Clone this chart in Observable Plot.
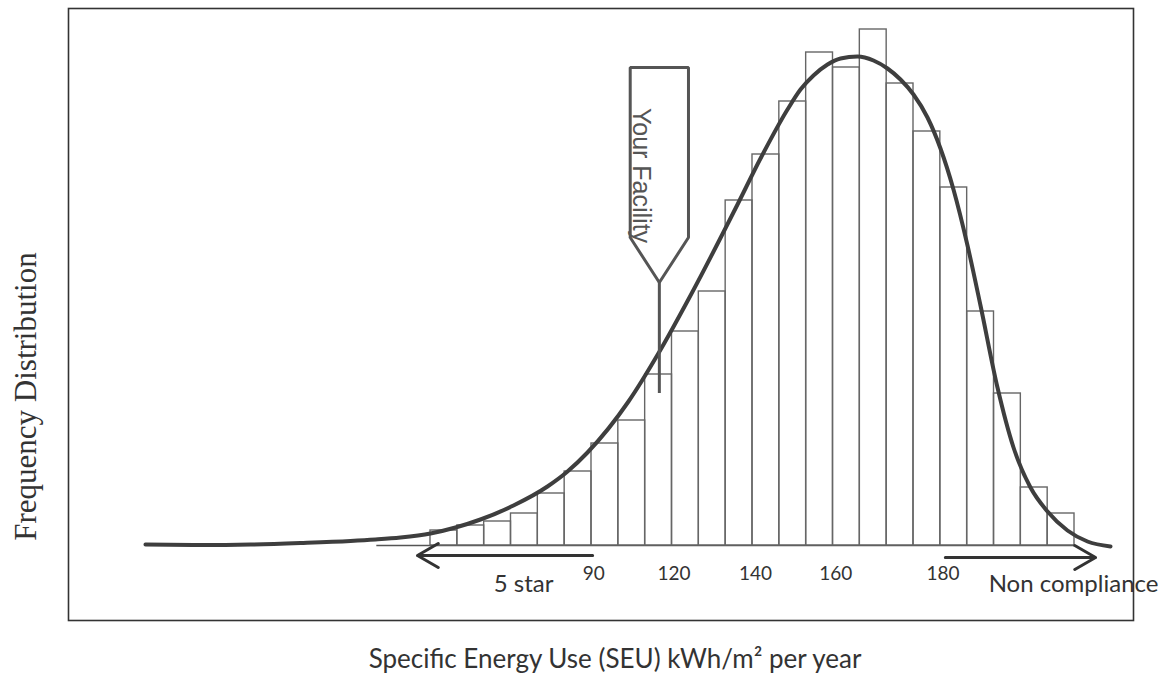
<!DOCTYPE html>
<html><head><meta charset="utf-8">
<script src="https://cdn.jsdelivr.net/npm/d3@7"></script>
<script src="https://cdn.jsdelivr.net/npm/@observablehq/plot@0.6"></script>
<style>body{margin:0;background:#fff;} svg{display:block;}</style>
</head><body><div id="chart"></div>
<script>
// Histogram bins (SEU, kWh/m² per year) and their frequency heights
const binStart = [48,55,62,69,76,83,90,97,104,111,118,125,132,139,146,153,160,167,174,181,188,195,202,209];
const binWidth = 7;
const frequency = [3.0,4.0,4.8,6.4,10.4,14.8,20.4,25.0,34.2,42.8,50.8,69.0,78.2,88.8,98.6,95.6,103.2,92.4,82.8,71.6,46.8,30.4,11.6,6.4];

// Fitted distribution curve
const curveSEU  = [-26.35,-12.0,1.04,14.09,27.13,33.65,40.17,48.0,54.52,61.04,69.65,78.52,83.74,88.96,99.65,107.74,115.83,128.09,134.09,141.13,144.52,147.91,151.57,154.96,159.39,163.57,167.22,170.61,174.0,177.65,181.04,184.43,188.09,191.48,195.91,200.09,204.52,208.96,214.17,219.39,225.39];
const curveFreq = [0.2,0.1,0.2,0.5,0.9,1.2,1.6,2.4,3.6,5.2,8.0,11.8,14.8,18.6,28.8,38.8,50.0,68.2,77.4,87.2,91.2,94.0,96.2,97.4,97.8,97.0,95.4,93.2,90.2,85.6,79.4,71.2,60.0,48.0,31.6,19.6,11.6,6.8,3.0,0.8,-0.2];

// Tick labels (as printed) and where they sit along the axis
const tickLabels = ["90","120","140","160","180"];
const tickAt = [90.6,111.5,132.8,153.7,181.7];

// Annotations
const facilitySEU = 107.7;
const fiveStar = {from: 90.3, to: 44.6, label: "5 star", labelAt: 72.3};
const nonCompliance = {from: 182.3, to: 221.5, label: "Non compliance", labelAt: 193.6};

const bars = binStart.map((s, i) => ({x1: s, x2: s + binWidth, f: frequency[i]}));
const curve = curveSEU.map((x, i) => ({x, y: curveFreq[i]}));
const ticks = tickLabels.map((t, i) => ({x: tickAt[i], t}));

// Marker outline ("Your Facility" pointer) in data space around facilitySEU
const hw = 7.6;
const markerPath = [
  {x: facilitySEU - hw, y: 61.6}, {x: facilitySEU - hw, y: 95.6},
  {x: facilitySEU + hw, y: 95.6}, {x: facilitySEU + hw, y: 61.6},
  {x: facilitySEU, y: 52.6}, {x: facilitySEU - hw, y: 61.6}
];

const sans = "Lato, 'Open Sans', sans-serif";
const chart = Plot.plot({
  width: 1165, height: 677,
  marginLeft: 68, marginRight: 32, marginTop: 8, marginBottom: 57,
  x: {domain: [-46.43, 231.39], axis: null},
  y: {domain: [-15, 107.4], axis: null},
  style: {background: "#fff", color: "#333"},
  marks: [
    Plot.frame({stroke: "#333", strokeWidth: 1.6}),
    Plot.ruleY([0], {x1: binStart[0] - 2 * binWidth, x2: binStart[binStart.length - 1] + binWidth, stroke: "#555", strokeWidth: 1.3}),
    Plot.rect(bars, {x1: "x1", x2: "x2", y1: 0, y2: "f", fill: "none", stroke: "#666", strokeWidth: 1.4}),
    Plot.line(curve, {x: "x", y: "y", curve: "monotone-x", stroke: "#3e3e3e", strokeWidth: 4}),
    Plot.line(markerPath, {x: "x", y: "y", stroke: "#555", strokeWidth: 3, strokeLinejoin: "miter"}),
    Plot.ruleX([facilitySEU], {y1: 52.6, y2: 30.4, stroke: "#555", strokeWidth: 3}),
    Plot.text(["Your Facility"], {x: facilitySEU, y: 74, dx: -18, rotate: 90, fontSize: 25, fill: "#555", fontFamily: "'Liberation Sans', Arial, sans-serif"}),
    Plot.arrow([fiveStar], {x1: "from", x2: "to", y1: -2, y2: -2, stroke: "#333", strokeWidth: 3, headLength: 12}),
    Plot.arrow([nonCompliance], {x1: "from", x2: "to", y1: -2.4, y2: -2.4, stroke: "#333", strokeWidth: 3, headLength: 12}),
    Plot.text(ticks, {x: "x", y: -5.6, text: "t", fontSize: 19, fill: "#333", fontFamily: sans}),
    Plot.text([fiveStar], {x: "labelAt", y: -7.8, text: "label", fontSize: 24, fill: "#333", fontFamily: sans}),
    Plot.text([nonCompliance], {x: "labelAt", y: -7.8, text: "label", textAnchor: "start", fontSize: 24, fill: "#333", fontFamily: sans}),
    Plot.text(["Specific Energy Use (SEU) kWh/m² per year"], {frameAnchor: "bottom", lineAnchor: "middle", dx: 14, dy: 39, fontSize: 26, fill: "#333", fontFamily: sans}),
    Plot.text(["Frequency Distribution"], {frameAnchor: "left", y: 29.8, dx: -42, rotate: -90, textAnchor: "middle", lineAnchor: "middle", fontSize: 31, fill: "#333", fontFamily: "'Liberation Serif', 'DejaVu Serif', serif"})
  ]
});
document.getElementById("chart").appendChild(chart);
</script>
</body></html>
